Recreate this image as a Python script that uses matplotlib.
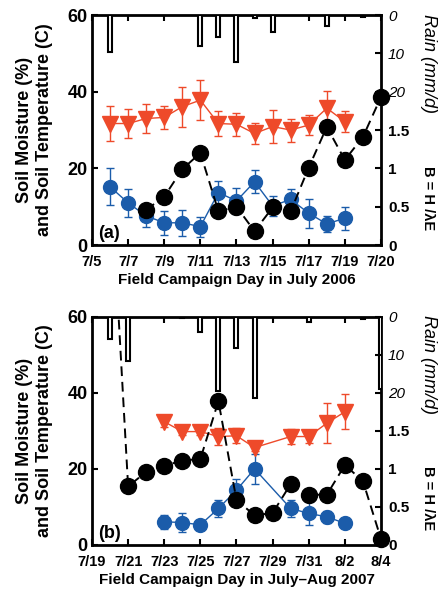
import matplotlib
matplotlib.use("Agg")
import matplotlib.pyplot as plt

plt.rcParams['font.family'] = ['Liberation Sans', 'DejaVu Sans']

RED = '#ee4a2a'
BLUE = '#1b5caa'

# panel (a): July 2006
temp_days_a = [6, 7, 8, 9, 10, 11, 12, 13, 14, 15, 16, 17, 18, 19]
temp_a = [31.7, 31.7, 33.0, 33.3, 36.1, 37.8, 31.7, 31.5, 29.1, 30.9, 30.0, 31.3, 35.7, 32.2]
temp_err_a = [4.5, 3.7, 3.8, 3.1, 5.2, 5.2, 3.2, 3.0, 2.8, 4.2, 3.0, 2.7, 4.5, 2.8]
moist_days_a = [6, 7, 8, 9, 10, 11, 12, 13, 14, 15, 16, 17, 18, 19]
moist_a = [15.2, 11.0, 7.6, 5.8, 5.8, 4.8, 13.7, 11.5, 16.5, 10.2, 11.9, 8.3, 5.5, 7.0]
moist_err_a = [4.8, 3.6, 2.9, 3.2, 3.4, 2.6, 3.0, 3.3, 3.0, 2.5, 2.8, 3.8, 2.0, 3.0]
bowen_days_a = [8, 9, 10, 11, 12, 13, 14, 15, 16, 17, 18, 19, 20, 21]
bowen_a = [0.46, 0.63, 0.99, 1.20, 0.44, 0.50, 0.18, 0.49, 0.44, 1.01, 1.54, 1.11, 1.41, 1.93]
rain_days_a = [6, 11, 12, 13, 14, 15, 18, 20]
rain_a = [9.6, 8.1, 5.8, 12.3, 0.8, 4.5, 2.9, 0.5]
ticks_a = [5, 7, 9, 11, 13, 15, 17, 19, 21]
ticklabels_a = ['7/5', '7/7', '7/9', '7/11', '7/13', '7/15', '7/17', '7/19', '7/20']

# panel (b): July-Aug 2007 (day 32 = 8/1)
temp_days_b = [23, 24, 25, 26, 27, 28, 30, 31, 32, 33]
temp_b = [32.4, 29.8, 29.8, 28.5, 28.7, 25.6, 28.5, 28.5, 32.0, 35.0]
temp_err_b = [1.5, 1.0, 1.0, 2.2, 2.0, 1.0, 2.0, 1.7, 5.2, 4.6]
moist_days_b = [23, 24, 25, 26, 27, 28, 30, 31, 32, 33]
moist_b = [6.1, 5.9, 5.3, 9.6, 14.4, 20.0, 9.6, 8.3, 7.4, 5.7]
moist_err_b = [1.9, 2.6, 0.8, 2.2, 3.0, 4.0, 2.2, 3.0, 1.5, 1.0]
bowen_days_b = [20, 21, 22, 23, 24, 25, 26, 27, 28, 29, 30, 31, 32, 33, 34, 35]
bowen_b = [5.0, 0.77, 0.96, 1.04, 1.11, 1.13, 1.89, 0.59, 0.39, 0.42, 0.80,
           0.66, 0.66, 1.05, 0.84, 0.08]
rain_days_b = [20, 21, 24, 25, 26, 27, 28, 29, 31, 34, 35]
rain_b = [6.0, 11.6, 0.4, 3.9, 19.5, 8.3, 21.5, 0.2, 1.3, 0.6, 19.0]
ticks_b = [19, 21, 23, 25, 27, 29, 31, 33, 35]
ticklabels_b = ['7/19', '7/21', '7/23', '7/25', '7/27', '7/29', '7/31', '8/2', '8/4']


def draw_panel(ax, temp_days, temp, temp_err, moist_days, moist, moist_err,
               bowen_days, bowen, rain_days, rain, ticks, ticklabels, tag, xlabel):
    ax.errorbar(temp_days, temp, yerr=temp_err, color=RED, marker='v', ms=11,
                lw=1, elinewidth=1, capsize=3, capthick=1)
    ax.errorbar(moist_days, moist, yerr=moist_err, color=BLUE, marker='o', ms=10,
                lw=1, elinewidth=1, capsize=3, capthick=1)
    ax.set_xlim(ticks[0], ticks[-1])
    ax.set_ylim(0, 60)
    ax.set_yticks([0, 20, 40, 60])
    ax.set_xticks(ticks)
    ax.set_xticklabels(ticklabels, fontsize=10.5, fontweight='bold')
    for lab in ax.get_yticklabels():
        lab.set_fontsize(13)
        lab.set_fontweight('bold')
    ax.tick_params(direction='in', top=True, right=False, length=4, width=1.5)
    ax.tick_params(axis='x', pad=7)
    ax.tick_params(axis='y', pad=3)
    for sp in ax.spines.values():
        sp.set_linewidth(2)
    ax.set_ylabel('Soil Moisture (%)\nand Soil Temperature (C)', fontsize=13,
                  fontweight='bold', linespacing=1.2)
    ax.yaxis.set_label_coords(-0.135, 0.5)
    ax.set_xlabel(xlabel, fontsize=11, fontweight='bold', labelpad=3)
    ax.text(0.02, 0.015, tag, transform=ax.transAxes, fontsize=13,
            fontweight='bold', va='bottom')

    # rain, hanging from the top
    axr = ax.twinx()
    axr.bar(rain_days, rain, width=0.22, facecolor='white', edgecolor='black', lw=1.5)
    axr.set_ylim(60, 0)
    axr.set_yticks([0, 10, 20])
    axr.set_yticklabels(['0', '10', '20'], fontsize=11, fontstyle='italic')
    axr.tick_params(direction='in', length=4, width=1.5, pad=5)
    for sp in axr.spines.values():
        sp.set_visible(False)

    # Bowen ratio
    axb = ax.twinx()
    axb.plot(bowen_days, bowen, color='black', ls='--', lw=1.4, dashes=(5, 3))
    shown = [(d, b) for d, b in zip(bowen_days, bowen) if b <= 3]
    axb.plot([d for d, b in shown], [b for d, b in shown], 'o', color='black',
             ms=11.5, clip_on=False, zorder=5)
    axb.set_ylim(0, 3)
    axb.set_yticks([0, 0.5, 1, 1.5])
    axb.set_yticklabels(['0', '0.5', '1', '1.5'], fontsize=11, fontweight='bold')
    axb.tick_params(direction='in', length=4, width=1.5, pad=5)
    for sp in axb.spines.values():
        sp.set_visible(False)

    ax.text(1.163, 0.79, 'Rain (mm/d)', transform=ax.transAxes, rotation=270,
            fontsize=13, fontstyle='italic', ha='center', va='center')
    ax.text(1.163, 0.205, 'B = H /\u03bbE', transform=ax.transAxes,
            rotation=270, fontsize=10.5, fontweight='bold', ha='center', va='center')


fig = plt.figure(figsize=(4.41, 5.92), dpi=100)
ax1 = fig.add_axes([0.2086, 0.5861, 0.6553, 0.3885])
ax2 = fig.add_axes([0.2086, 0.0794, 0.6553, 0.3857])

draw_panel(ax1, temp_days_a, temp_a, temp_err_a, moist_days_a, moist_a, moist_err_a,
           bowen_days_a, bowen_a, rain_days_a, rain_a, ticks_a, ticklabels_a,
           '(a)', 'Field Campaign Day in July 2006')
draw_panel(ax2, temp_days_b, temp_b, temp_err_b, moist_days_b, moist_b, moist_err_b,
           bowen_days_b, bowen_b, rain_days_b, rain_b, ticks_b, ticklabels_b,
           '(b)', 'Field Campaign Day in July\u2013Aug 2007')

fig.savefig('out.png', dpi=100)
